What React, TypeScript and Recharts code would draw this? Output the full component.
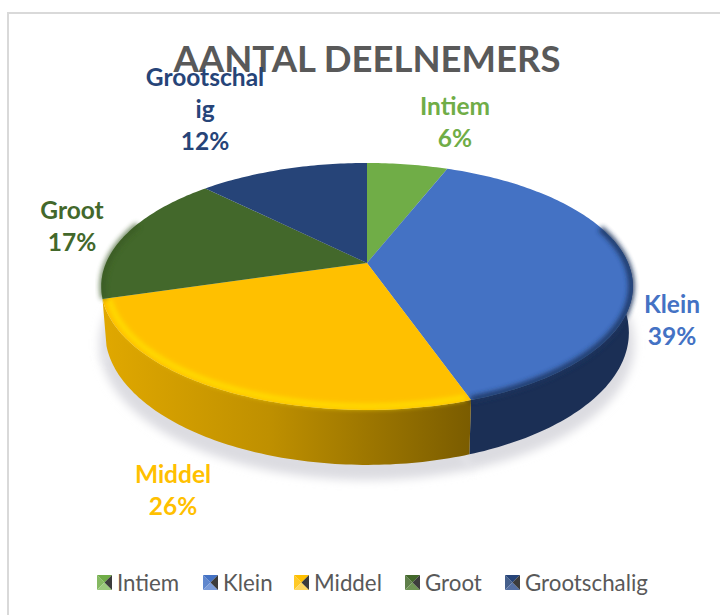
import React from "react";
import { PieChart, Pie, Legend } from "recharts";

const NAMES = ["Intiem", "Klein", "Middel", "Groot", "Grootschalig"];
const VALUES = [5.9, 38.8, 25.7, 17.2, 12.4];
const LABEL_LINES = [["Intiem"], ["Klein"], ["Middel"], ["Groot"], ["Grootschal", "ig"]];
const TOP_COLORS = ["#70ad47", "#4472c4", "#ffc000", "#43682b", "#264478"];
const WALL_FILLS = ["none", "#1b2f55", "url(#wallGold)", "none", "none"];
const RIM_COLORS = ["none", "#1f3560", "#ffe000", "#375824", "none"];
const LEGEND_LIGHT = ["#9cc97e", "#7a9bd8", "#ffd75f", "#6f9455", "#5570a3"];
const LABEL_CENTERS: [number, number][] = [[455, 107], [672, 305], [173, 475], [72, 211], [205, 78]];
const LEGEND_X = [97, 203, 294, 405, 505];

const data = NAMES.map((name, i) => ({ name, value: VALUES[i] }));

const FONT = "Lato, 'Open Sans', sans-serif";
const CX = 367, CY = 263, R = 261;
const PERSP = 0.19, FLAT = 0.456, DEPTH = 44.5, BOTTOM_SCALE = 0.985;

function pt(cx: number, cy: number, r: number, deg: number) {
  const a = (deg * Math.PI) / 180;
  const u = Math.sin(a), v = Math.cos(a), w = 1 + PERSP * v;
  return { x: cx + (r * u) / w, y: cy - (r * FLAT * v) / w, w };
}
function arc(cx: number, cy: number, r: number, a0: number, a1: number) {
  const out: { x: number; y: number; w: number }[] = [];
  const n = Math.max(2, Math.ceil(Math.abs(a1 - a0)));
  for (let i = 0; i <= n; i++) out.push(pt(cx, cy, r, a0 + ((a1 - a0) * i) / n));
  return out;
}
const toPath = (p: { x: number; y: number }[]) =>
  p.map((q, i) => `${i ? "L" : "M"}${q.x.toFixed(1)} ${q.y.toFixed(1)}`).join("");
const clockwise = (d: number) => 90 - d;

function TopFace(props: any) {
  const { cx, cy, outerRadius, startAngle, endAngle, name } = props;
  const i = NAMES.indexOf(name);
  const a0 = clockwise(startAngle), a1 = clockwise(endAngle);
  const d = `M${cx} ${cy}` + toPath(arc(cx, cy, outerRadius, a0, a1)).replace("M", "L") + "Z";
  const r0 = Math.max(a0, 72), r1 = Math.min(a1, 290);
  const isGold = i === 2;
  return (
    <g>
      <path d={d} fill={TOP_COLORS[i]} />
      {r1 > r0 && RIM_COLORS[i] !== "none" && (
        <path
          d={toPath(arc(cx, cy, outerRadius * (isGold ? 0.975 : 0.995), r0 + (isGold ? 0.6 : 0), r1 - (isGold ? 0.6 : 0)))}
          fill="none"
          stroke={RIM_COLORS[i]}
          strokeWidth={isGold ? 5 : 6}
          strokeLinecap="butt"
          opacity={i === 3 ? 0.7 : 0.95}
          filter="url(#soft)"
        />
      )}
    </g>
  );
}

function wallPath(cx: number, cy: number, r: number, a0: number, a1: number) {
  const top = arc(cx, cy, r, a0, a1);
  const bottom = top
    .map((q) => ({ x: cx + (q.x - cx) * BOTTOM_SCALE, y: q.y + DEPTH / q.w }))
    .reverse();
  return toPath(top) + toPath(bottom).replace("M", "L") + "Z";
}

function Wall(props: any) {
  const { cx, cy, outerRadius, startAngle, endAngle, name } = props;
  const i = NAMES.indexOf(name);
  const a0 = Math.max(clockwise(startAngle), 78), a1 = Math.min(clockwise(endAngle), 282);
  if (a1 <= a0) return <g />;
  return <path d={wallPath(cx, cy, outerRadius, a0, a1)} fill={WALL_FILLS[i]} />;
}

function Shadow(props: any) {
  const { cx, cy, outerRadius, startAngle, endAngle } = props;
  const a0 = clockwise(startAngle), a1 = clockwise(endAngle);
  const pts = arc(cx, cy, outerRadius, a0, a1).map((q) => ({
    x: cx + (q.x - cx) * 1.0,
    y: q.y + (DEPTH + 11) / q.w,
  }));
  const d = `M${cx} ${cy + 51}` + toPath(pts).replace("M", "L") + "Z";
  return <path d={d} fill="#dcdce1" stroke="#dcdce1" strokeWidth={3} filter="url(#shadowBlur)" />;
}

function SliceLabel(props: any) {
  const { name, percent } = props;
  const i = NAMES.indexOf(name);
  const [x, y] = LABEL_CENTERS[i];
  const lines = [...LABEL_LINES[i], `${Math.round(percent * 100)}%`];
  return (
    <text
      x={x}
      y={y}
      textAnchor="middle"
      fill={TOP_COLORS[i]}
      fontFamily={FONT}
      fontWeight={700}
      fontSize={24.5}
    >
      {lines.map((line, k) => (
        <tspan key={k} x={x} y={y + k * 32} dy={8}>
          {line}
        </tspan>
      ))}
    </text>
  );
}

function LegendIcon({ index }: { index: number }) {
  const c = TOP_COLORS[index];
  return (
    <svg width={15} height={15} style={{ display: "block" }}>
      <polygon points="0,0 15,0 7.5,7.5" fill={c} />
      <polygon points="0,0 0,15 7.5,7.5" fill={c} opacity={0.85} />
      <polygon points="0,15 15,15 7.5,7.5" fill={LEGEND_LIGHT[index]} />
      <polygon points="15,0 15,15 7.5,7.5" fill="#1a1a1a" opacity={0.85} />
    </svg>
  );
}

function LegendContent() {
  return (
    <div style={{ position: "relative", width: 720, height: 30 }}>
      {NAMES.map((name, i) => (
        <div
          key={name}
          style={{
            position: "absolute",
            left: LEGEND_X[i],
            top: 0,
            display: "flex",
            alignItems: "center",
            height: 30,
            gap: 5,
            color: "#595959",
            fontFamily: FONT,
            fontSize: 22.3,
            whiteSpace: "nowrap",
          }}
        >
          <LegendIcon index={i} />
          <span>{name}</span>
        </div>
      ))}
    </div>
  );
}

export default function App() {
  return (
    <div style={{ position: "absolute", left: 0, top: 0, width: 720, height: 615, overflow: "hidden", background: "#fff" }}>
      <div
        style={{
          position: "absolute",
          left: 7,
          top: 12,
          width: 760,
          height: 660,
          border: "2px solid #d9d9d9",
          boxSizing: "border-box",
        }}
      />
      <PieChart width={720} height={615} margin={{ top: 0, right: 0, bottom: 0, left: 0 }} style={{ position: "absolute", left: 0, top: 0 }}>
        <defs>
          <linearGradient id="wallGold" x1="0" y1="0" x2="1" y2="0">
            <stop offset="0" stopColor="#e0a800" />
            <stop offset="0.45" stopColor="#bf9000" />
            <stop offset="1" stopColor="#7a5c00" />
          </linearGradient>
          <filter id="soft" x="-20%" y="-20%" width="140%" height="140%">
            <feGaussianBlur stdDeviation="2.4" />
          </filter>
          <filter id="shadowBlur" x="-20%" y="-20%" width="140%" height="140%">
            <feGaussianBlur stdDeviation="5" />
          </filter>
        </defs>
        <text
          x={367}
          y={72}
          textAnchor="middle"
          fill="#595959"
          fontFamily={FONT}
          fontWeight={700}
          fontSize={36.5}
        >
          AANTAL DEELNEMERS
        </text>
        <Pie data={data} dataKey="value" nameKey="name" cx={CX} cy={CY} outerRadius={R} startAngle={90} endAngle={-270}
          stroke="none" isAnimationActive={false} legendType="none" shape={Shadow} />
        <Pie data={data} dataKey="value" nameKey="name" cx={CX} cy={CY} outerRadius={R} startAngle={90} endAngle={-270}
          stroke="none" isAnimationActive={false} legendType="none" shape={Wall} />
        <Pie data={data} dataKey="value" nameKey="name" cx={CX} cy={CY} outerRadius={R} startAngle={90} endAngle={-270}
          stroke="none" isAnimationActive={false} shape={TopFace} label={SliceLabel} labelLine={false} />
        <Legend content={<LegendContent />} wrapperStyle={{ left: 0, top: 567, width: 720, height: 30 }} />
      </PieChart>
    </div>
  );
}
